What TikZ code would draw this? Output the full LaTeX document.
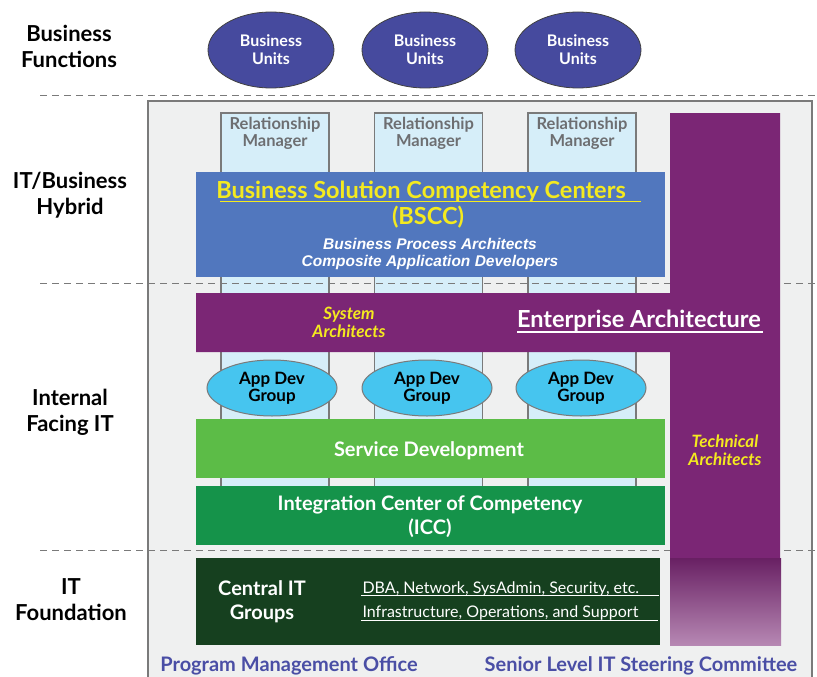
\documentclass[tikz,border=0pt]{standalone}
\usepackage{fontspec}
\setmainfont{Lato}
\setsansfont{Lato}
\newfontfamily\arialfont{Liberation Sans}
\usetikzlibrary{shapes.geometric}

\definecolor{bizblue}{HTML}{464A9E}
\definecolor{rmblue}{HTML}{D6EEF9}
\definecolor{bsccblue}{HTML}{5177BE}
\definecolor{eapurple}{HTML}{7B2675}
\definecolor{appblue}{HTML}{46C5EF}
\definecolor{svcgreen}{HTML}{5CBC47}
\definecolor{iccgreen}{HTML}{15934A}
\definecolor{cigreen}{HTML}{16401F}
\definecolor{labelblue}{HTML}{4A4EA5}
\definecolor{panelgray}{HTML}{EFF0F0}
\definecolor{linegray}{HTML}{7A7A7A}
\definecolor{rmtext}{HTML}{6D6E71}
\definecolor{hiyellow}{HTML}{F4EA1F}

\tikzset{
  rowlabel/.style={align=center, font=\fontsize{22}{26}\selectfont\bfseries},
  divider/.style={linegray, line width=1pt, dash pattern=on 7pt off 5pt},
  unitoval/.style={ellipse, draw=darkgray, line width=0.8pt, fill=bizblue,
    minimum width=126pt, minimum height=76pt, inner sep=0pt, text=white,
    align=center, font=\fontsize{16}{18}\selectfont\bfseries},
  rmcol/.style={draw=linegray, line width=1.2pt, fill=rmblue,
    minimum width=108pt, minimum height=428pt, inner sep=0pt},
  rmlabel/.style={text=rmtext, align=center, font=\fontsize{16.5}{17}\selectfont\bfseries},
  band/.style={inner sep=0pt, minimum width=469pt},
  appoval/.style={ellipse, draw=linegray, line width=1pt, fill=appblue,
    minimum width=130pt, minimum height=56pt, inner sep=0pt,
    align=center, font=\fontsize{17}{17}\selectfont\bfseries},
  bandtext/.style={text=white, align=center, font=\fontsize{20}{24}\selectfont\bfseries},
  roletext/.style={text=hiyellow, align=center, font=\fontsize{17}{18}\selectfont\bfseries\itshape},
  footer/.style={text=labelblue, font=\fontsize{20}{22}\selectfont\bfseries}
}

\begin{document}
\begin{tikzpicture}[x=1pt,y=-1pt]
  \useasboundingbox (0,0) rectangle (817,677);

  % panel
  \fill[panelgray] (148,101) rectangle (812,677);
  \draw[linegray, line width=1.2pt] (148,677) -- (148,101) -- (812,101) -- (812,677);

  % relationship managers
  \node[rmcol] (rm1) at (275,327) {};
  \node[rmcol] (rm2) at (428.5,327) {};
  \node[rmcol] (rm3) at (582,327) {};
  \node[rmlabel] (rmt1) at (275,133) {Relationship\\Manager};
  \node[rmlabel] (rmt2) at (428.5,133) {Relationship\\Manager};
  \node[rmlabel] (rmt3) at (582,133) {Relationship\\Manager};

  % row dividers
  \draw[divider] (40,96) -- (817,96);
  \draw[divider] (40,283) -- (817,283);
  \draw[divider] (40,550) -- (817,550);

  % row labels
  \node[rowlabel] (lbiz) at (69,46) {Business\\Functions};
  \node[rowlabel] (lhyb) at (70,195) {IT/Business\\Hybrid};
  \node[rowlabel] (lint) at (70,412) {Internal\\Facing IT};
  \node[rowlabel] (lfnd) at (71,600) {IT\\Foundation};

  % business units
  \node[unitoval] (bu1) at (271,50) {Business\\Units};
  \node[unitoval] (bu2) at (425,50) {Business\\Units};
  \node[unitoval] (bu3) at (578,50) {Business\\Units};

  % BSCC
  \node[band, fill=bsccblue, minimum height=105pt] (bscc) at (430.5,224.5) {};
  \node[text=hiyellow, font=\fontsize{23.5}{26}\selectfont\bfseries] (bscct) at (421,192) {Business Solution Competency Centers};
  \draw[hiyellow, line width=1.6pt] (220,201.5) -- (641,201.5);
  \node[text=hiyellow, font=\fontsize{23.5}{26}\selectfont\bfseries] (bscca) at (428,217) {(BSCC)};
  \node[text=white, align=center, font=\arialfont\fontsize{15.5}{17.5}\selectfont\bfseries\itshape] (bsccr) at (430,254) {Business Process Architects\\Composite Application Developers};

  % enterprise architecture
  \fill[eapurple] (196,293) -- (670,293) -- (670,113) -- (780,113) -- (780,558)
    -- (670,558) -- (670,352) -- (196,352) -- cycle;
  \shade[top color=eapurple!85!black, middle color=eapurple, bottom color=eapurple!55!white]
    (670,558) rectangle (781,645);
  \node[text=white, font=\fontsize{23.5}{26}\selectfont\bfseries] (eat) at (639,321) {Enterprise Architecture};
  \draw[white, line width=1.6pt] (517,332) -- (763,332);
  \node[roletext] (sysarch) at (349,322) {System\\Architects};
  \node[roletext] (techarch) at (725,450) {Technical\\Architects};

  % app dev groups
  \node[appoval] (ad1) at (272,388) {App Dev\\Group};
  \node[appoval] (ad2) at (427,388) {App Dev\\Group};
  \node[appoval] (ad3) at (581,388) {App Dev\\Group};

  % service development and ICC
  \node[band, fill=svcgreen, minimum height=59pt] (svc) at (430.5,448.5) {};
  \node[bandtext] (svct) at (429,450.5) {Service Development};
  \node[band, fill=iccgreen, minimum height=59pt] (icc) at (430.5,515.5) {};
  \node[bandtext] (icct) at (430,517) {Integration Center of Competency\\(ICC)};

  % central IT groups
  \node[inner sep=0pt, minimum width=464pt, minimum height=87pt, fill=cigreen] (cit) at (428,601.5) {};
  \node[bandtext] (citt) at (262,602) {Central IT\\Groups};
  \node[text=white, anchor=west, font=\fontsize{16}{18}\selectfont] (cit1) at (359,589) {DBA, Network, SysAdmin, Security, etc.};
  \draw[white, line width=1.3pt] (361,595.5) -- (659,595.5);
  \node[text=white, anchor=west, font=\fontsize{16}{18}\selectfont] (cit2) at (359,613) {Infrastructure, Operations, and Support};
  \draw[white, line width=1.3pt] (361,620.5) -- (658,620.5);

  % footers
  \node[footer] (pmo) at (289,666) {Program Management Office};
  \node[footer] (steer) at (641,666) {Senior Level IT Steering Committee};
\end{tikzpicture}
\end{document}
